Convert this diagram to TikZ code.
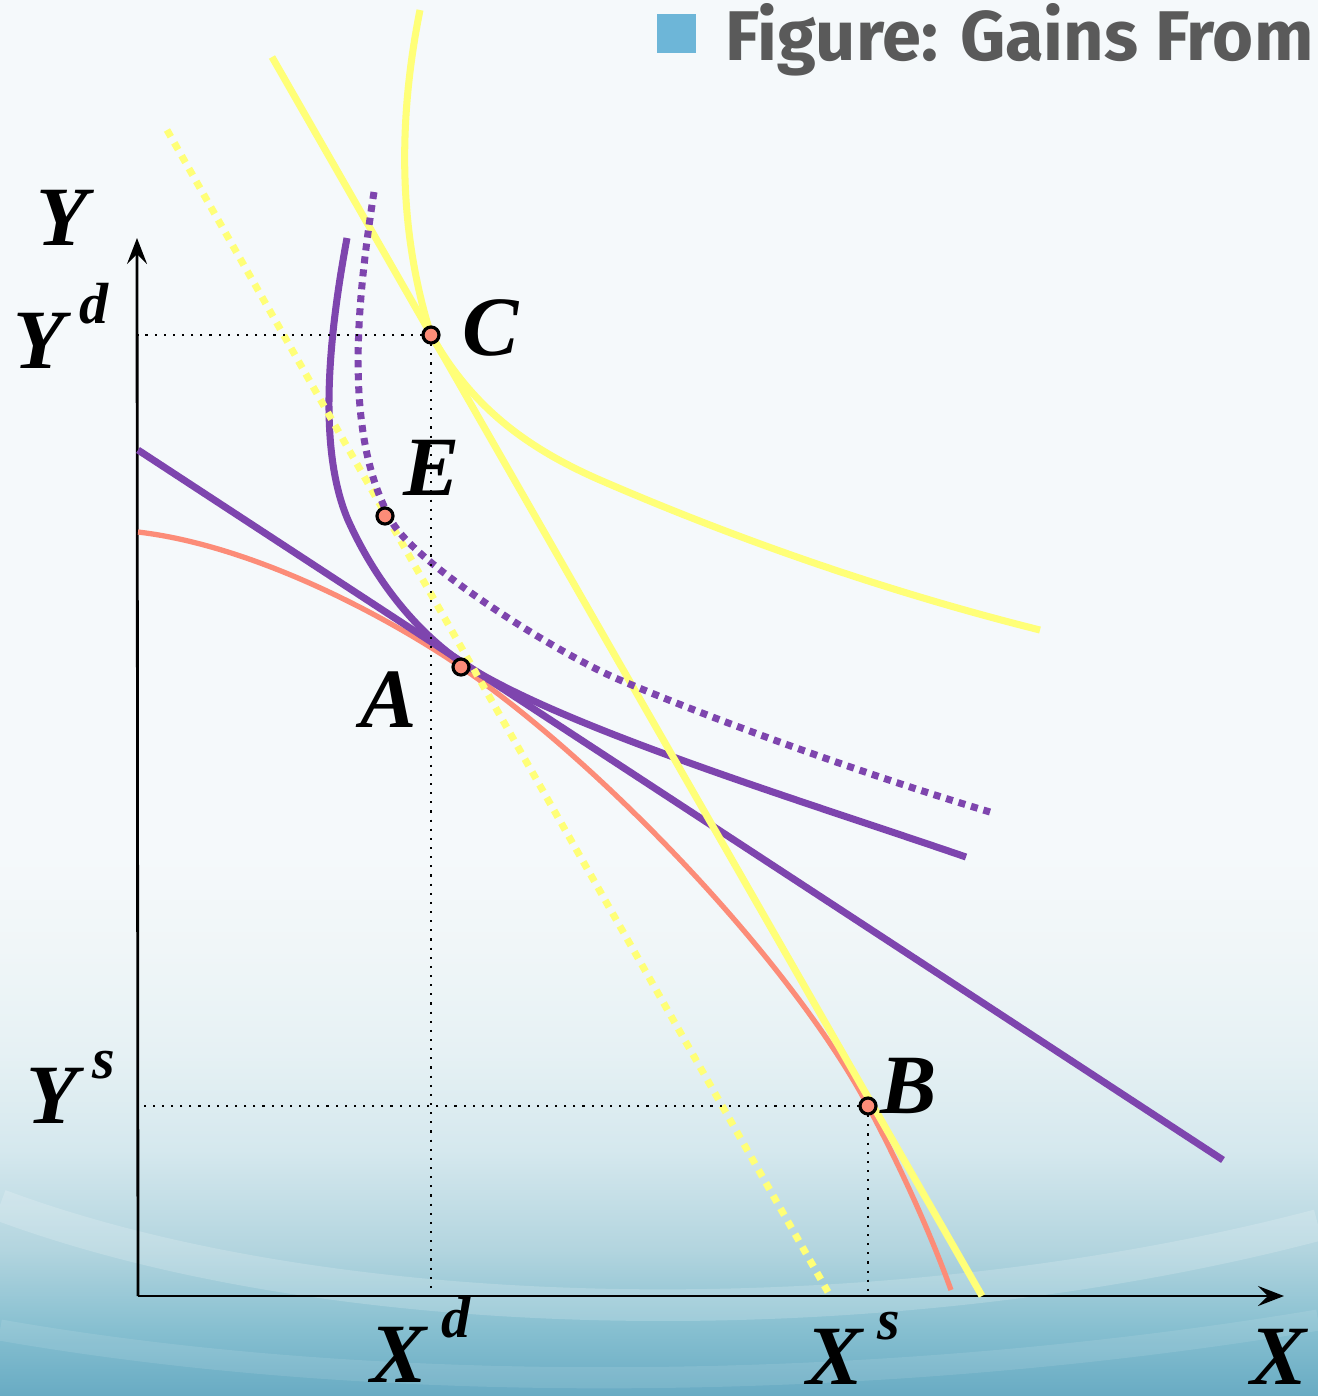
\documentclass[tikz,border=0pt]{standalone}
\usepackage{fontspec}
\setmainfont{Liberation Serif}
\newfontfamily\titlefont{Fira Sans}
\usepackage{xcolor}
\usetikzlibrary{arrows.meta,calc}

\definecolor{icpurple}{HTML}{7E45AE}
\definecolor{tradeyellow}{HTML}{FFFF78}
\definecolor{ppfsalmon}{HTML}{FC8C78}
\definecolor{titlegray}{HTML}{5A5A5A}
\definecolor{titleblue}{HTML}{6DB6D8}
\definecolor{sea0}{HTML}{68ABC3}
\definecolor{sea1}{HTML}{86BFD0}
\definecolor{sea2}{HTML}{B3D5DF}
\definecolor{sea3}{HTML}{D5E8EE}
\definecolor{sea4}{HTML}{E6F1F4}
\definecolor{sea5}{HTML}{F0F6F8}
\definecolor{sea6}{HTML}{F5F9FB}

% bottom of the slide: pale to sea blue
\pgfdeclareverticalshading{seashade}{100bp}{color(0bp)=(sea0); color(25bp)=(sea0); color(31bp)=(sea1); color(38.5bp)=(sea2); color(47.5bp)=(sea3); color(56.5bp)=(sea4); color(66bp)=(sea5); color(75bp)=(sea6); color(100bp)=(sea6)}

\newcommand{\supvar}[2]{#1\,\raisebox{1.15ex}{\fontsize{16.5}{16.5}\selectfont #2}}

\begin{document}
\begin{tikzpicture}[x=0.01cm, y=-0.01cm,
  lbl/.style={font=\fontsize{24}{28}\selectfont\bfseries\itshape, inner sep=0pt},
  pt/.style={circle, draw=black, fill=ppfsalmon, line width=0.9pt, minimum size=0.16cm, inner sep=0pt},
  axis/.style={line width=0.8pt, -{Stealth[length=2.6mm,width=2mm,inset=1mm]}},
  guide/.style={dotted, line width=0.6pt},
  ppf/.style={ppfsalmon, line width=1.5pt},
  home/.style={icpurple, line width=2pt},
  homedot/.style={home, dash pattern=on 2pt off 1.7pt},
  world/.style={tradeyellow, line width=2pt},
  worlddot/.style={world, dash pattern=on 2.2pt off 2pt},
]
\useasboundingbox (0,0) rectangle (1318,1396);
\fill[sea6] (0,0) rectangle (1318,851);
\shade[shading=seashade] (0,850) rectangle (1318,1396);
\draw[white, opacity=0.18, line width=9pt] (0,1205) .. controls (350,1335) and (900,1335) .. (1318,1225);
\draw[white, opacity=0.1, line width=6pt] (0,1330) .. controls (400,1400) and (900,1390) .. (1318,1320);

% title
\node[fill=titleblue, minimum size=0.39cm, inner sep=0pt, anchor=north west] (mark) at (656,13) {};
\node[anchor=base west, inner sep=0pt, font=\titlefont\bfseries\fontsize{20}{24}\selectfont, text=titlegray] (title) at (725,60) {Figure: Gains From};

% points
\coordinate (O) at (138,1296);
\coordinate (ytip) at (137,238);
\coordinate (xtip) at (1284,1296);
\coordinate (A) at (461,667);
\coordinate (B) at (868,1106);
\coordinate (C) at (431,335);
\coordinate (E) at (385,516);

% axes
\draw[axis] (O) -- (ytip);
\draw[axis] (O) -- (xtip);

% production frontier
\draw[ppf] (138,532) .. controls (250,545) and (380,612) .. (A)
  .. controls (600,762) and (790,960) .. (B)
  .. controls (900,1166) and (930,1232) .. (951,1290);
% autarky price and indifference curve
\draw[home] (138,450) -- (1223,1160);
\draw[home] (347,238) .. controls (328,340) and (318,450) .. (348,520)
  .. controls (375,580) and (415,630) .. (461,662)
  .. controls (560,727) and (800,800) .. (966,857);
% world price lines
\draw[worlddot] (167,130) -- (828,1292);
\draw[world] (272,57) -- (982,1296);
\draw[world] (420,10) .. controls (398,120) and (398,230) .. (C)
  .. controls (470,403) and (520,445) .. (600,480)
  .. controls (750,545) and (900,595) .. (1040,630);
\draw[homedot] (374,192) .. controls (354,320) and (346,440) .. (392,522)
  .. controls (418,566) and (560,655) .. (620,680)
  .. controls (700,714) and (850,770) .. (990,812);

% guides
\draw[guide] (C) -- (C -| O);
\draw[guide] (C) -- (C |- O);
\draw[guide] (B) -- (B -| O);
\draw[guide] (B) -- (B |- O);

\node[pt] (dotA) at (A) {};
\node[pt] (dotB) at (B) {};
\node[pt] (dotC) at (C) {};
\node[pt] (dotE) at (E) {};

% labels
\node[lbl, anchor=base west] (labY) at (36,245) {Y};
\node[lbl, anchor=base west] (labYd) at (13,368) {\supvar{Y}{d}};
\node[lbl, anchor=base west] (labYs) at (26,1123) {\supvar{Y}{s}};
\node[lbl, anchor=base west] (labXd) at (370,1382) {\supvar{X}{d}};
\node[lbl, anchor=base west] (labXs) at (806,1384) {\supvar{X}{s}};
\node[lbl, anchor=base west] (labX) at (1250,1384) {X};
\node[lbl, anchor=base west] (labC) at (462,355) {C};
\node[lbl, anchor=base west] (labE) at (403,495) {E};
\node[lbl, anchor=base west] (labA) at (360,727) {A};
\node[lbl, anchor=base west] (labB) at (880,1113) {B};
\end{tikzpicture}
\end{document}
